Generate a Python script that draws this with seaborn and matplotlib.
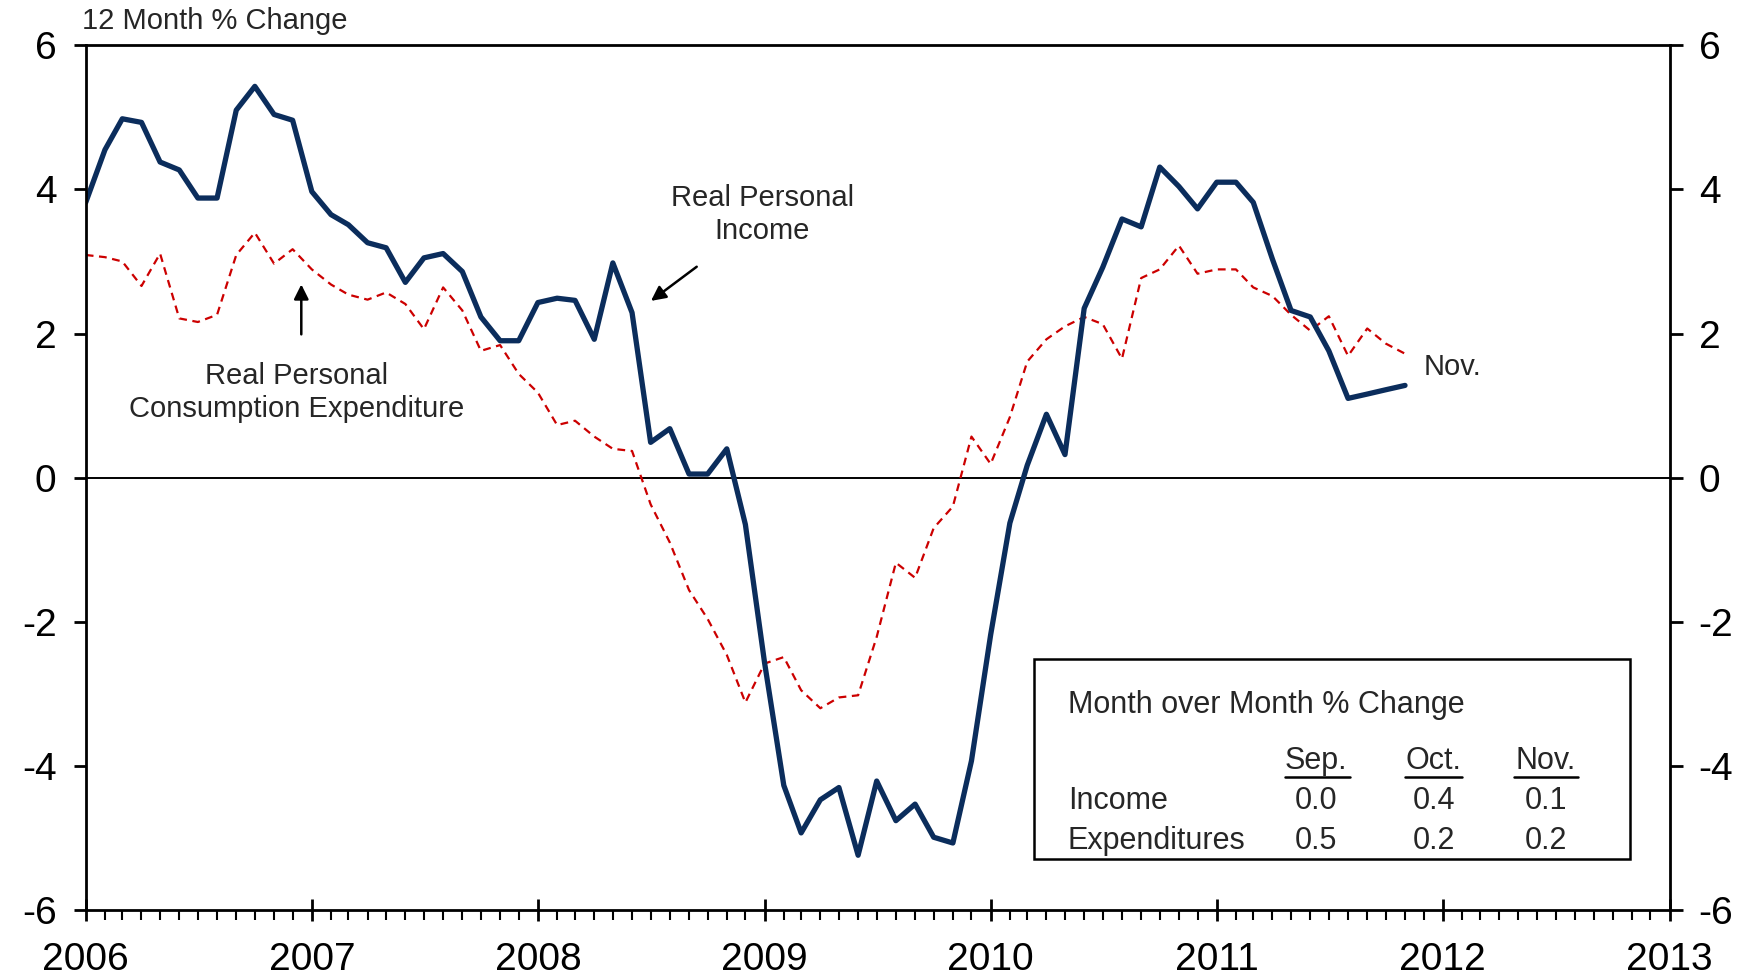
import numpy as np
import pandas as pd
import matplotlib
matplotlib.use("Agg")
import matplotlib.pyplot as plt
import matplotlib.dates as mdates
from matplotlib.patches import Rectangle
import seaborn as sns

sns.set_theme(style="white")
plt.rcParams['font.family'] = ['Liberation Sans', 'DejaVu Sans']

# 12 month % change, Jan 2006 - Nov 2011
income = [3.82, 4.55, 4.98, 4.93, 4.38, 4.27, 3.88, 3.88, 5.10, 5.43, 5.04, 4.96,
          3.97, 3.65, 3.51, 3.26, 3.19, 2.71, 3.05, 3.11, 2.86, 2.23, 1.90, 1.90,
          2.43, 2.49, 2.46, 1.92, 2.98, 2.29, 0.49, 0.68, 0.05, 0.05, 0.40, -0.65,
          -2.57, -4.27, -4.93, -4.47, -4.30, -5.24, -4.21, -4.76, -4.53, -4.99, -5.07, -3.93,
          -2.18, -0.63, 0.17, 0.88, 0.32, 2.35, 2.92, 3.59, 3.48, 4.31, 4.04, 3.73,
          4.10, 4.10, 3.82, 3.03, 2.32, 2.23, 1.76, 1.10, 1.16, 1.22, 1.28]
pce = [3.09, 3.06, 3.00, 2.66, 3.11, 2.21, 2.16, 2.26, 3.09, 3.40, 2.97, 3.17,
       2.89, 2.68, 2.54, 2.47, 2.57, 2.41, 2.06, 2.64, 2.32, 1.76, 1.84, 1.44,
       1.18, 0.73, 0.79, 0.57, 0.40, 0.37, -0.37, -0.90, -1.56, -1.96, -2.46, -3.12,
       -2.58, -2.49, -2.95, -3.20, -3.05, -3.02, -2.21, -1.18, -1.39, -0.70, -0.40, 0.57,
       0.19, 0.84, 1.61, 1.92, 2.10, 2.23, 2.13, 1.65, 2.77, 2.89, 3.22, 2.83,
       2.89, 2.89, 2.64, 2.52, 2.26, 2.04, 2.24, 1.69, 2.07, 1.86, 1.72]
months = pd.date_range("2006-01-01", periods=len(income), freq="MS")

# month over month table
mom_months = ["Sep.", "Oct.", "Nov."]
mom_income = ["0.0", "0.4", "0.1"]
mom_exp = ["0.5", "0.2", "0.2"]

df = pd.DataFrame({"date": months, "income": income, "pce": pce})

navy = "#0b2d5c"
red = "#cc0000"

fig = plt.figure(figsize=(17.5, 9.76), dpi=100)
ax = fig.add_axes([0.049, 0.0676, 0.905, 0.886])

sns.lineplot(data=df, x="date", y="pce", ax=ax, color=red, linewidth=1.6)
ax.lines[-1].set_dashes([3.5, 2.5])
sns.lineplot(data=df, x="date", y="income", ax=ax, color=navy, linewidth=3.8)
ax.axhline(0, color="black", linewidth=1.4, zorder=1)

ax.set_xlim(pd.Timestamp("2006-01-01"), pd.Timestamp("2013-01-01"))
ax.set_ylim(-6, 6)
ax.set_yticks(np.arange(-6, 7, 2))
ax.set_yticklabels([str(v) for v in range(-6, 7, 2)])
ax.xaxis.set_major_locator(mdates.YearLocator())
ax.xaxis.set_major_formatter(mdates.DateFormatter("%Y"))
ax.xaxis.set_minor_locator(mdates.MonthLocator())
ax.set_xlabel("")
ax.set_ylabel("")

for s in ax.spines.values():
    s.set_color("black")
    s.set_linewidth(2)

ax.tick_params(axis="y", which="major", direction="out", length=9, width=2,
               left=True, right=True, labelleft=True, labelright=True,
               labelsize=28, pad=12, colors="black")
ax.tick_params(axis="x", which="major", direction="inout", length=16, width=2,
               bottom=True, labelsize=28, pad=15, colors="black")
ax.tick_params(axis="x", which="minor", direction="out", length=7, width=1.5,
               bottom=True, colors="black")

fig.text(0.047, 0.978, "12 Month % Change", fontsize=21, va="center", ha="left")

ax.text(pd.Timestamp("2008-12-28"), 3.65, "Real Personal\nIncome", fontsize=21,
        ha="center", va="center", linespacing=1.2)
ax.annotate("", xy=(pd.Timestamp("2008-06-28"), 2.43), xytext=(pd.Timestamp("2008-09-17"), 2.95),
            arrowprops=dict(arrowstyle="-|>", color="black", lw=1.8, mutation_scale=22))
ax.annotate("", xytext=(pd.Timestamp("2006-12-15"), 1.95), xy=(pd.Timestamp("2006-12-15"), 2.72),
            arrowprops=dict(arrowstyle="-|>", color="black", lw=1.8, mutation_scale=22))
ax.text(pd.Timestamp("2006-12-08"), 1.18, "Real Personal\nConsumption Expenditure", fontsize=21,
        ha="center", va="center", linespacing=1.2)
ax.text(pd.Timestamp("2011-12-01"), 1.53, "Nov.", fontsize=21, ha="left", va="center")

# table box
ax.add_patch(Rectangle((0.599, 0.059), 0.376, 0.231, transform=ax.transAxes,
                       fill=False, edgecolor="black", linewidth=1.8, zorder=5))
ax.text(0.620, 0.237, "Month over Month % Change", transform=ax.transAxes,
        fontsize=22, ha="left", va="center")
col_x = [0.777, 0.851, 0.922]
ul = [(0.757, 0.798), (0.833, 0.869), (0.902, 0.942)]
for cx, m, e_in, e_ex, (u0, u1) in zip(col_x, mom_months, mom_income, mom_exp, ul):
    ax.text(cx, 0.172, m, transform=ax.transAxes, fontsize=22, ha="center", va="center")
    ax.plot([u0, u1], [0.154, 0.154], transform=ax.transAxes, color="black", lw=1.8)
    ax.text(cx, 0.126, e_in, transform=ax.transAxes, fontsize=22, ha="center", va="center")
    ax.text(cx, 0.080, e_ex, transform=ax.transAxes, fontsize=22, ha="center", va="center")
ax.text(0.620, 0.126, "Income", transform=ax.transAxes, fontsize=22, ha="left", va="center")
ax.text(0.620, 0.080, "Expenditures", transform=ax.transAxes, fontsize=22, ha="left", va="center")

fig.savefig("out.png", dpi=100, facecolor="white")
